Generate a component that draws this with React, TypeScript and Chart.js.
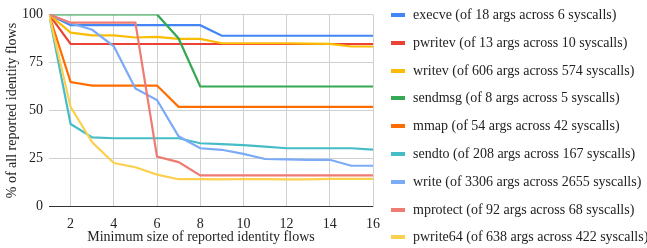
import React, { useEffect, useRef } from "react";
import { Chart, registerables } from "chart.js";

Chart.register(...registerables);

const xValues = [1, 2, 3, 4, 5, 6, 7, 8, 9, 10, 11, 12, 13, 14, 15, 16];
const xTickValues = [2, 4, 6, 8, 10, 12, 14, 16];
const yTickValues = [0, 25, 50, 75, 100];

const seriesNames = [
  "execve (of 18 args across 6 syscalls)",
  "pwritev (of 13 args across 10 syscalls)",
  "writev (of 606 args across 574 syscalls)",
  "sendmsg (of 8 args across 5 syscalls)",
  "mmap (of 54 args across 42 syscalls)",
  "sendto (of 208 args across 167 syscalls)",
  "write (of 3306 args across 2655 syscalls)",
  "mprotect (of 92 args across 68 syscalls)",
  "pwrite64 (of 638 args across 422 syscalls)",
];

const seriesColors = [
  "#4285F4",
  "#EA4335",
  "#FBBC04",
  "#34A853",
  "#FF6D01",
  "#46BDC6",
  "#7BAAF7",
  "#F07B72",
  "#FCD04F",
];

const execve = [100, 94.4, 94.4, 94.4, 94.4, 94.4, 94.4, 94.4, 88.9, 88.9, 88.9, 88.9, 88.9, 88.9, 88.9, 88.9];
const pwritev = [100, 84.6, 84.6, 84.6, 84.6, 84.6, 84.6, 84.6, 84.6, 84.6, 84.6, 84.6, 84.6, 84.6, 84.6, 84.6];
const writev = [100, 90.5, 89.1, 89.1, 88.0, 88.3, 87.3, 87.3, 85.0, 85.0, 85.0, 85.0, 84.8, 84.7, 83.3, 83.3];
const sendmsg = [100, 100, 100, 100, 100, 100, 87.5, 62.5, 62.5, 62.5, 62.5, 62.5, 62.5, 62.5, 62.5, 62.5];
const mmap = [100, 64.8, 63.0, 63.0, 63.0, 63.0, 51.9, 51.9, 51.9, 51.9, 51.9, 51.9, 51.9, 51.9, 51.9, 51.9];
const sendto = [100, 43.0, 36.0, 35.6, 35.6, 35.6, 35.6, 33.0, 32.5, 32.0, 31.2, 30.4, 30.4, 30.4, 30.4, 29.7];
const write = [100, 95.4, 92.0, 83.4, 61.5, 55.5, 36.6, 30.4, 29.6, 27.5, 24.8, 24.6, 24.4, 24.4, 21.3, 21.3];
const mprotect = [100, 95.7, 95.7, 95.7, 95.7, 26.1, 23.2, 16.3, 16.3, 16.3, 16.3, 16.3, 16.3, 16.3, 16.3, 16.3];
const pwrite64 = [100, 51.9, 33.5, 22.7, 20.5, 16.7, 14.3, 14.3, 14.2, 14.4, 14.3, 14.2, 14.2, 14.5, 14.5, 14.5];

const seriesValues = [execve, pwritev, writev, sendmsg, mmap, sendto, write, mprotect, pwrite64];

const xTitle = "Minimum size of reported identity flows";
const yTitle = "% of all reported identity flows";

const FONT = "Liberation Serif";
const TEXT = "#222222";

export default function App() {
  const ref = useRef<HTMLCanvasElement | null>(null);

  useEffect(() => {
    if (!ref.current) return;

    const overlay = {
      id: "overlay",
      afterDraw(chart: any) {
        const ctx = chart.ctx;
        const area = chart.chartArea;
        ctx.save();
        ctx.fillStyle = TEXT;
        ctx.font = `14px "${FONT}"`;
        ctx.textAlign = "center";
        ctx.textBaseline = "middle";
        ctx.fillText(xTitle, 201, 237);
        ctx.translate(12, (area.top + area.bottom) / 2);
        ctx.rotate(-Math.PI / 2);
        ctx.fillText(yTitle, 0, 0);
        ctx.restore();
      },
    };

    const chart = new Chart(ref.current, {
      type: "line",
      data: {
        labels: xValues,
        datasets: seriesNames.map((name, i) => ({
          label: name,
          data: xValues.map((x, j) => ({ x, y: seriesValues[i][j] })),
          borderColor: seriesColors[i],
          backgroundColor: seriesColors[i],
          borderWidth: 2.2,
          pointRadius: 0,
          tension: 0,
          fill: false,
          order: seriesNames.length - i,
        })),
      },
      options: {
        responsive: false,
        animation: false,
        events: [],
        layout: { padding: { top: 13, right: 274, left: 0, bottom: 0 } },
        plugins: {
          legend: { display: false },
          tooltip: { enabled: false },
          title: { display: false },
        },
        scales: {
          x: {
            type: "linear",
            min: 1,
            max: 16,
            afterBuildTicks: (scale: any) => {
              scale.ticks = xTickValues.map((v) => ({ value: v }));
            },
            afterFit: (scale: any) => {
              scale.height = 41.3;
            },
            border: { display: false },
            grid: { color: "#d0d0d0", lineWidth: 1, drawTicks: false },
            ticks: {
              color: TEXT,
              font: { family: FONT, size: 14 },
              padding: 9,
              maxRotation: 0,
              autoSkip: false,
            },
          },
          y: {
            min: 0,
            max: 100,
            afterBuildTicks: (scale: any) => {
              scale.ticks = yTickValues.map((v) => ({ value: v }));
            },
            afterFit: (scale: any) => {
              scale.width = 49;
            },
            border: { display: false },
            grid: {
              color: (c: any) => (c.tick && c.tick.value === 0 ? "#333333" : "#d0d0d0"),
              lineWidth: 1,
              drawTicks: false,
            },
            ticks: {
              color: TEXT,
              font: { family: FONT, size: 14 },
              padding: 6,
            },
          },
        },
      },
      plugins: [overlay],
    });

    let alive = true;
    const redraw = () => {
      if (alive) chart.update();
    };
    const fonts = (document as any).fonts;
    if (fonts && fonts.load) {
      fonts.load(`14px "${FONT}"`).then(redraw, redraw);
      fonts.ready.then(redraw, redraw);
    }
    requestAnimationFrame(() => requestAnimationFrame(redraw));
    const t = setTimeout(redraw, 100);

    return () => {
      alive = false;
      clearTimeout(t);
      chart.destroy();
    };
  }, []);

  return (
    <div style={{ position: "absolute", left: 0, top: 0, width: 647, height: 248, fontFamily: FONT, fontSize: 14, color: TEXT }}>
      <canvas ref={ref} width={647} height={248} style={{ display: "block" }} />
      {seriesNames.map((name, i) => (
        <div
          key={name}
          style={{
            position: "absolute",
            left: 391,
            top: 15 + i * 27.8 - 8,
            height: 16,
            display: "flex",
            alignItems: "center",
            whiteSpace: "nowrap",
            lineHeight: "16px",
          }}
        >
          <span style={{ display: "inline-block", width: 14, height: 4, background: seriesColors[i], marginRight: 8 }} />
          <span>{name}</span>
        </div>
      ))}
    </div>
  );
}
